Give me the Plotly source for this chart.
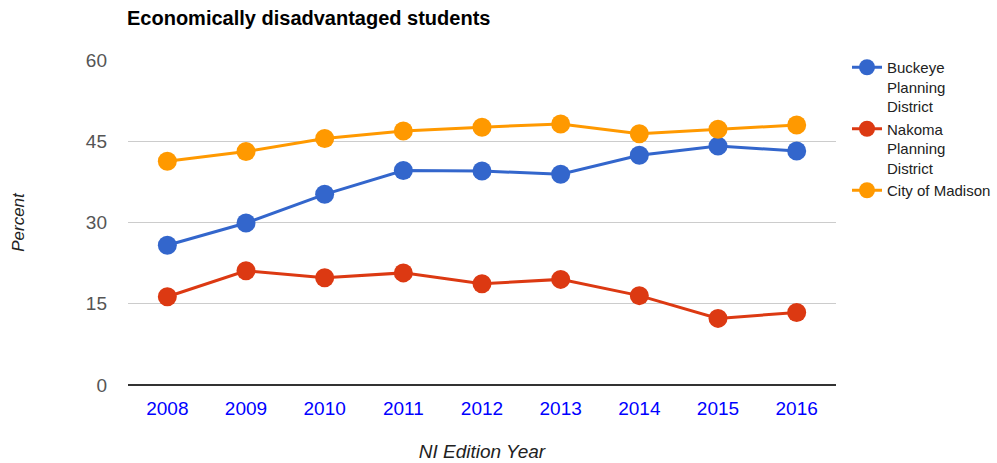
import plotly.graph_objects as go

years = ["2008", "2009", "2010", "2011", "2012", "2013", "2014", "2015", "2016"]
buckeye = [25.8, 29.9, 35.2, 39.6, 39.5, 38.9, 42.4, 44.1, 43.2]
nakoma = [16.3, 21.1, 19.8, 20.7, 18.7, 19.5, 16.5, 12.3, 13.4]
madison = [41.3, 43.1, 45.5, 46.9, 47.6, 48.2, 46.4, 47.2, 48.0]

series_names = ["Buckeye<br>Planning<br>District", "Nakoma<br>Planning<br>District", "City of Madison"]
colors = ["#3366cc", "#dc3912", "#ff9900"]

fig = go.Figure()
for name, vals, col in zip(series_names, [buckeye, nakoma, madison], colors):
    fig.add_trace(go.Scatter(
        x=years, y=vals, name=name, mode="lines+markers",
        line=dict(color=col, width=3),
        marker=dict(color=col, size=19),
    ))

fig.update_layout(
    width=997, height=463,
    margin=dict(l=128, r=161, t=60, b=78, autoexpand=False),
    paper_bgcolor="white", plot_bgcolor="white",
    font=dict(family="Arial, Liberation Sans, sans-serif", color="#222"),
    title=dict(text="<b>Economically disadvantaged students</b>", x=127/997, xanchor="left",
               y=1 - 18/463, yanchor="middle", font=dict(size=20, color="#000")),
    showlegend=True,
    legend=dict(xref="container", yref="container", x=847/997, y=1 - 51/463,
                xanchor="left", yanchor="top", font=dict(size=15, color="#222"),
                itemwidth=30, tracegroupgap=4, valign="top", bgcolor="rgba(0,0,0,0)"),
    xaxis=dict(type="category", range=[-0.5, 8.5], showgrid=False, showline=False,
               zeroline=False, automargin=False, tickfont=dict(size=19, color="#0000ff"),
               ticklabelstandoff=10,
               title=dict(text="<i>NI Edition Year</i>", font=dict(size=19, color="#222"), standoff=26)),
    yaxis=dict(range=[0, 60], tickvals=[0, 15, 30, 45, 60], showgrid=True, gridcolor="#cccccc",
               gridwidth=1, zeroline=True, zerolinecolor="#333333", zerolinewidth=2,
               automargin=False, tickfont=dict(size=19, color="#555"), ticklabelstandoff=20,
               title=dict(text="<i>Percent</i>", font=dict(size=17, color="#222"), standoff=56)),
)

fig.write_html("out.html", config={"displayModeBar": False},
               post_script="document.body.style.margin='0';document.body.style.overflow='hidden';")
